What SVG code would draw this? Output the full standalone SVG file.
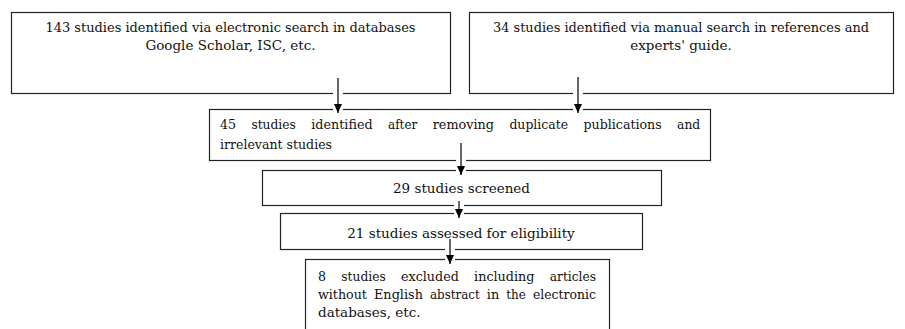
<svg xmlns="http://www.w3.org/2000/svg" width="905" height="329" viewBox="0 0 905 329">
<style>
.box{fill:#fff;stroke:#222;stroke-width:1.2}
text{font-family:'DejaVu Serif','Liberation Serif',serif;font-size:13.5px;fill:#111}
.c{text-anchor:middle}
.halo{stroke:#fff;stroke-width:10}
.arr{stroke:#000;stroke-width:1.2;marker-end:url(#ah)}
</style>
<defs>
<marker id="ah" markerUnits="userSpaceOnUse" markerWidth="9" markerHeight="8" viewBox="0 0 9 8" refX="9" refY="4" orient="auto">
<path d="M0,0 L9,4 L0,8 z" fill="#000"/>
</marker>
</defs>
<rect width="905" height="329" fill="#fff"/>
<g id="n1">
<rect class="box" x="11.5" y="12.5" width="439" height="81"/>
<text class="c" x="230.5" y="32" textLength="370" lengthAdjust="spacingAndGlyphs">143 studies identified via electronic search in databases</text>
<text class="c" x="230.5" y="50">Google Scholar, ISC, etc.</text>
</g>
<g id="n2">
<rect class="box" x="469.5" y="12.5" width="424" height="81"/>
<text class="c" x="681" y="32" textLength="376" lengthAdjust="spacingAndGlyphs">34 studies identified via manual search in references and</text>
<text class="c" x="681" y="50">experts' guide.</text>
</g>
<g id="n3">
<rect class="box" x="209.5" y="109.5" width="501" height="51"/>
<text x="220" y="129" textLength="16" lengthAdjust="spacingAndGlyphs">45</text>
<text x="251.4" y="129" textLength="44.4" lengthAdjust="spacingAndGlyphs">studies</text>
<text x="311.3" y="129" textLength="61.3" lengthAdjust="spacingAndGlyphs">identified</text>
<text x="388" y="129" textLength="29.3" lengthAdjust="spacingAndGlyphs">after</text>
<text x="432.7" y="129" textLength="61.3" lengthAdjust="spacingAndGlyphs">removing</text>
<text x="509.4" y="129" textLength="58.7" lengthAdjust="spacingAndGlyphs">duplicate</text>
<text x="583.5" y="129" textLength="78.2" lengthAdjust="spacingAndGlyphs">publications</text>
<text x="677.1" y="129" textLength="23.1" lengthAdjust="spacingAndGlyphs">and</text>
<text x="220" y="149" textLength="112" lengthAdjust="spacingAndGlyphs">irrelevant studies</text>
</g>
<g id="n4">
<rect class="box" x="262.5" y="170.5" width="399" height="35"/>
<text class="c" x="461.5" y="193">29 studies screened</text>
</g>
<g id="n5">
<rect class="box" x="280.5" y="213.5" width="362" height="36"/>
<text class="c" x="461" y="238">21 studies assessed for eligibility</text>
</g>
<g id="n6">
<rect class="box" x="305.5" y="259.5" width="304" height="75"/>
<text x="318" y="281" textLength="8" lengthAdjust="spacingAndGlyphs">8</text>
<text x="341.3" y="281" textLength="44.4" lengthAdjust="spacingAndGlyphs">studies</text>
<text x="401" y="281" textLength="57.8" lengthAdjust="spacingAndGlyphs">excluded</text>
<text x="474.1" y="281" textLength="60.4" lengthAdjust="spacingAndGlyphs">including</text>
<text x="549.8" y="281" textLength="46.2" lengthAdjust="spacingAndGlyphs">articles</text>
<text x="318" y="299" textLength="48.9" lengthAdjust="spacingAndGlyphs">without</text>
<text x="374" y="299" textLength="48.9" lengthAdjust="spacingAndGlyphs">English</text>
<text x="430" y="299" textLength="49.8" lengthAdjust="spacingAndGlyphs">abstract</text>
<text x="486.8" y="299" textLength="12.4" lengthAdjust="spacingAndGlyphs">in</text>
<text x="506.3" y="299" textLength="19.6" lengthAdjust="spacingAndGlyphs">the</text>
<text x="532.9" y="299" textLength="63.1" lengthAdjust="spacingAndGlyphs">electronic</text>
<text x="318" y="317">databases, etc.</text>
</g>
<g id="connectors">
<line class="halo" x1="338" y1="80" x2="338" y2="113"/>
<line class="arr" x1="338" y1="78" x2="338" y2="113"/>
<line class="halo" x1="578" y1="79" x2="578" y2="113"/>
<line class="arr" x1="578" y1="77" x2="578" y2="113"/>
<line class="halo" x1="461" y1="145" x2="461" y2="175"/>
<line class="arr" x1="461" y1="143" x2="461" y2="175"/>
<line class="halo" x1="459" y1="203" x2="459" y2="217"/>
<line class="arr" x1="459" y1="201" x2="459" y2="218"/>
<line class="halo" x1="450" y1="241" x2="450" y2="263"/>
<line class="arr" x1="450" y1="239" x2="450" y2="264"/>
</g>
</svg>
